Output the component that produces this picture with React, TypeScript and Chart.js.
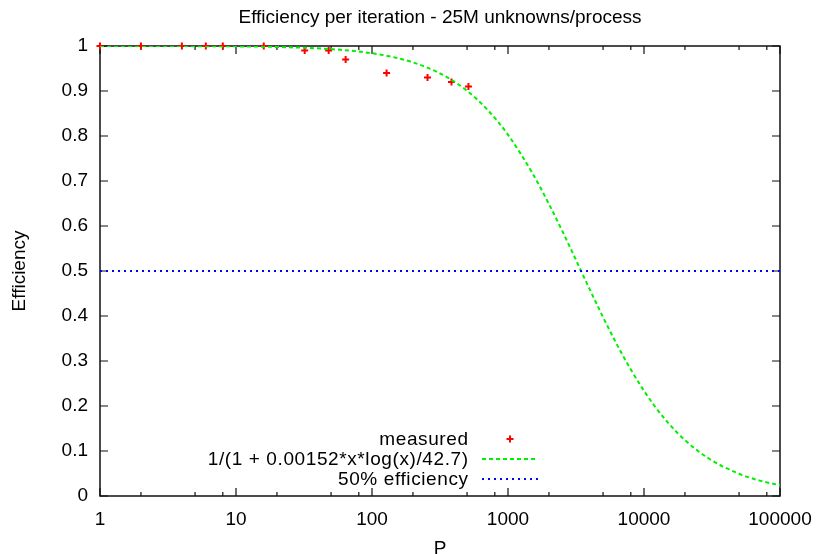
import React, { useEffect, useRef } from "react";
import { Chart, registerables } from "chart.js";

Chart.register(...registerables);

// Measured efficiency
const measuredP = [1, 2, 4, 6, 8, 16, 32, 48, 64, 128, 256, 384, 512];
const measuredEff = [1, 1, 1, 1, 1, 1, 0.99, 0.99, 0.97, 0.94, 0.93, 0.92, 0.91];

// Model curve 1/(1 + 0.00152*x*log(x)/42.7)
const modelP = [1, 2, 5, 10, 20, 50, 100, 150, 200, 300, 400, 500, 700, 1000, 1500, 2000, 2500, 3000, 4000, 5000, 6000, 7000, 8000, 10000, 12000, 15000, 20000, 30000, 50000, 70000, 100000];
const modelEff = [1, 0.99995, 0.9997, 0.9992, 0.9979, 0.9931, 0.9839, 0.974, 0.9636, 0.9426, 0.9214, 0.9004, 0.8597, 0.8026, 0.7192, 0.6489, 0.5896, 0.5391, 0.4585, 0.3975, 0.3499, 0.3119, 0.281, 0.2337, 0.1995, 0.163, 0.1242, 0.0833, 0.0494, 0.0347, 0.0238];

// 50% efficiency reference
const halfP = [1, 100000];
const halfEff = [0.5, 0.5];

// Ticks
const xTickValues = [1, 10, 100, 1000, 10000, 100000];
const xTickLabels = ["1", "10", "100", "1000", "10000", "100000"];
const xMinorFactors = [2, 5, 8];
const yTickValues = [0, 0.1, 0.2, 0.3, 0.4, 0.5, 0.6, 0.7, 0.8, 0.9, 1];
const yTickLabels = ["0", "0.1", "0.2", "0.3", "0.4", "0.5", "0.6", "0.7", "0.8", "0.9", "1"];

const titleText = "Efficiency per iteration - 25M unknowns/process";
const xTitle = "P";
const yTitle = "Efficiency";
const legendLabels = ["measured", "1/(1 + 0.00152*x*log(x)/42.7)", "50% efficiency"];

const FONT = "Liberation Sans, Arial, sans-serif";
const FS = 19;
const RED = "#ff0000";
const GREEN = "#00f000";
const BLUE = "#0000ff";

const decorPlugin = {
  id: "decor",
  beforeDatasetsDraw(chart: any) {
    const ctx = chart.ctx as CanvasRenderingContext2D;
    const a = chart.chartArea;
    const xs = chart.scales.x;
    const ys = chart.scales.y;
    ctx.save();
    // frame
    ctx.strokeStyle = "#111";
    ctx.lineWidth = 1.5;
    ctx.strokeRect(a.left, a.top, a.right - a.left, a.bottom - a.top);
    // y ticks
    ctx.lineWidth = 1.2;
    ctx.beginPath();
    yTickValues.forEach((v) => {
      const y = ys.getPixelForValue(v);
      ctx.moveTo(a.left, y);
      ctx.lineTo(a.left + 8, y);
      ctx.moveTo(a.right, y);
      ctx.lineTo(a.right - 8, y);
    });
    // x major + minor ticks
    xTickValues.forEach((v, i) => {
      const x = xs.getPixelForValue(v);
      ctx.moveTo(x, a.bottom);
      ctx.lineTo(x, a.bottom - 8);
      ctx.moveTo(x, a.top);
      ctx.lineTo(x, a.top + 8);
      if (i < xTickValues.length - 1) {
        xMinorFactors.forEach((f) => {
          const xm = xs.getPixelForValue(v * f);
          ctx.moveTo(xm, a.bottom);
          ctx.lineTo(xm, a.bottom - 4);
          ctx.moveTo(xm, a.top);
          ctx.lineTo(xm, a.top + 4);
        });
      }
    });
    ctx.stroke();
    ctx.restore();
  },
  afterDraw(chart: any) {
    const ctx = chart.ctx as CanvasRenderingContext2D;
    const a = chart.chartArea;
    ctx.save();
    // title
    ctx.fillStyle = "#000";
    ctx.font = `${FS}px ${FONT}`;
    ctx.textAlign = "center";
    ctx.textBaseline = "alphabetic";
    ctx.fillText(titleText, (a.left + a.right) / 2, 23);
    // x title
    ctx.fillText(xTitle, (a.left + a.right) / 2, a.bottom + 58);
    // y title
    ctx.save();
    ctx.translate(25, (a.top + a.bottom) / 2);
    ctx.rotate(-Math.PI / 2);
    ctx.fillText(yTitle, 0, 0);
    ctx.restore();

    // legend
    const textRight = a.left + 368;
    const sx0 = a.left + 382;
    const sx1 = a.left + 438;
    const rows = [a.bottom - 57, a.bottom - 37, a.bottom - 17];
    ctx.textAlign = "right";
    ctx.textBaseline = "middle";
    (ctx as any).letterSpacing = "0.6px";
    legendLabels.forEach((t, i) => ctx.fillText(t, textRight + 0.6, rows[i] + 1));
    (ctx as any).letterSpacing = "0px";
    // measured marker
    ctx.strokeStyle = RED;
    ctx.lineWidth = 2;
    const cx = (sx0 + sx1) / 2;
    ctx.beginPath();
    ctx.moveTo(cx - 3.5, rows[0]);
    ctx.lineTo(cx + 3.5, rows[0]);
    ctx.moveTo(cx, rows[0] - 3.5);
    ctx.lineTo(cx, rows[0] + 3.5);
    ctx.stroke();
    // model line
    ctx.strokeStyle = GREEN;
    ctx.setLineDash([4, 3]);
    ctx.beginPath();
    ctx.moveTo(sx0, rows[1]);
    ctx.lineTo(sx1, rows[1]);
    ctx.stroke();
    // half line
    ctx.strokeStyle = BLUE;
    ctx.setLineDash([2, 4]);
    ctx.beginPath();
    ctx.moveTo(sx0, rows[2]);
    ctx.lineTo(sx1, rows[2]);
    ctx.stroke();
    ctx.restore();
  },
};

export default function App() {
  const ref = useRef<HTMLCanvasElement | null>(null);
  useEffect(() => {
    if (!ref.current) return;
    const chart = new Chart(ref.current, {
      type: "line",
      data: {
        datasets: [
          {
            label: legendLabels[2],
            data: halfP.map((p, i) => ({ x: p, y: halfEff[i] })),
            borderColor: BLUE,
            borderWidth: 2,
            borderDash: [2, 4],
            pointRadius: 0,
            fill: false,
          },
          {
            label: legendLabels[1],
            data: modelP.map((p, i) => ({ x: p, y: modelEff[i] })),
            borderColor: GREEN,
            borderWidth: 2,
            borderDash: [4, 3],
            pointRadius: 0,
            cubicInterpolationMode: "monotone",
            fill: false,
          },
          {
            label: legendLabels[0],
            data: measuredP.map((p, i) => ({ x: p, y: measuredEff[i] })),
            showLine: false,
            pointStyle: "cross",
            pointRadius: 3.5,
            pointBorderWidth: 2,
            borderColor: RED,
            backgroundColor: RED,
            clip: 8,
          },
        ],
      },
      options: {
        animation: false,
        responsive: true,
        maintainAspectRatio: false,
        layout: { padding: { top: 46, right: 39, left: 0, bottom: 0 } },
        plugins: { legend: { display: false }, title: { display: false }, tooltip: { enabled: false } },
        scales: {
          x: {
            type: "logarithmic",
            min: 1,
            max: 100000,
            grid: { display: false, drawTicks: false },
            border: { display: false },
            afterBuildTicks: (s: any) => {
              s.ticks = xTickValues.map((v) => ({ value: v }));
            },
            afterFit: (s: any) => {
              s.height = 58;
              s.paddingLeft = 0;
              s.paddingRight = 0;
            },
            ticks: {
              autoSkip: false,
              maxRotation: 0,
              padding: 12,
              color: "#000",
              font: { family: FONT, size: FS },
              callback: (v: any) => {
                const i = xTickValues.indexOf(Number(v));
                return i >= 0 ? xTickLabels[i] : "";
              },
            },
          },
          y: {
            type: "linear",
            min: 0,
            max: 1,
            grid: { display: false, drawTicks: false },
            border: { display: false },
            afterBuildTicks: (s: any) => {
              s.ticks = yTickValues.map((v) => ({ value: v }));
            },
            afterFit: (s: any) => {
              s.width = 100;
              s.paddingTop = 0;
              s.paddingBottom = 0;
            },
            ticks: {
              autoSkip: false,
              padding: 12,
              color: "#000",
              font: { family: FONT, size: FS },
              callback: (v: any) => {
                const i = yTickValues.findIndex((t) => Math.abs(t - Number(v)) < 1e-9);
                return i >= 0 ? yTickLabels[i] : "";
              },
            },
          },
        },
      },
      plugins: [decorPlugin],
    });
    return () => chart.destroy();
  }, []);
  return (
    <div style={{ position: "absolute", left: 0, top: 0, width: 819, height: 554, background: "#fff" }}>
      <canvas ref={ref} />
    </div>
  );
}
